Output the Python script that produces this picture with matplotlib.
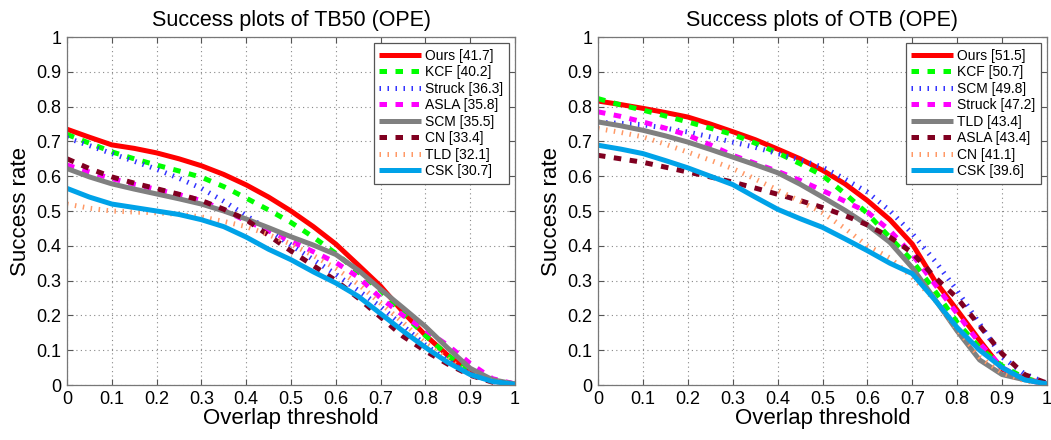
import matplotlib
matplotlib.use("Agg")
import matplotlib.pyplot as plt
from matplotlib.ticker import FixedLocator, FuncFormatter

plt.rcParams["font.family"] = ["Liberation Sans", "DejaVu Sans"]

# Overlap thresholds at which success rate is sampled (0:0.05:1)
thresholds = [0.0, 0.05, 0.1, 0.15, 0.2, 0.25, 0.3, 0.35, 0.4, 0.45, 0.5,
              0.55, 0.6, 0.65, 0.7, 0.75, 0.8, 0.85, 0.9, 0.95, 1.0]

# ---- TB50 ----
tb50_names = ["Ours", "KCF", "Struck", "ASLA", "SCM", "CN", "TLD", "CSK"]
tb50_auc = [41.7, 40.2, 36.3, 35.8, 35.5, 33.4, 32.1, 30.7]
tb50_ours = [0.735, 0.712, 0.69, 0.68, 0.667, 0.65, 0.63, 0.605, 0.575, 0.54, 0.5,
             0.455, 0.405, 0.345, 0.284, 0.21, 0.143, 0.085, 0.037, 0.011, 0.003]
tb50_kcf = [0.72, 0.695, 0.67, 0.65, 0.632, 0.615, 0.597, 0.57, 0.537, 0.503, 0.467,
            0.425, 0.378, 0.325, 0.272, 0.205, 0.142, 0.085, 0.04, 0.012, 0.003]
tb50_struck = [0.71, 0.688, 0.665, 0.643, 0.62, 0.594, 0.565, 0.528, 0.487, 0.445, 0.402,
               0.36, 0.318, 0.272, 0.225, 0.17, 0.115, 0.07, 0.03, 0.01, 0.002]
tb50_asla = [0.632, 0.612, 0.593, 0.577, 0.562, 0.547, 0.53, 0.502, 0.472, 0.443, 0.413,
             0.383, 0.352, 0.31, 0.25, 0.2, 0.158, 0.114, 0.062, 0.018, 0.003]
tb50_scm = [0.622, 0.598, 0.578, 0.563, 0.549, 0.535, 0.52, 0.5, 0.477, 0.452, 0.426,
            0.402, 0.375, 0.33, 0.275, 0.222, 0.168, 0.106, 0.048, 0.015, 0.003]
tb50_cn = [0.65, 0.622, 0.598, 0.58, 0.564, 0.548, 0.53, 0.505, 0.475, 0.43, 0.385,
           0.343, 0.3, 0.25, 0.195, 0.14, 0.098, 0.06, 0.028, 0.008, 0.002]
tb50_tld = [0.52, 0.508, 0.5, 0.497, 0.495, 0.49, 0.483, 0.47, 0.455, 0.432, 0.405,
            0.372, 0.335, 0.29, 0.235, 0.18, 0.12, 0.075, 0.03, 0.01, 0.002]
tb50_csk = [0.565, 0.54, 0.52, 0.51, 0.5, 0.49, 0.475, 0.455, 0.425, 0.39, 0.36,
            0.325, 0.293, 0.255, 0.205, 0.155, 0.108, 0.065, 0.03, 0.01, 0.002]

# ---- OTB ----
otb_names = ["Ours", "KCF", "SCM", "Struck", "TLD", "ASLA", "CN", "CSK"]
otb_auc = [51.5, 50.7, 49.8, 47.2, 43.4, 43.4, 41.1, 39.6]
otb_ours = [0.816, 0.806, 0.795, 0.783, 0.77, 0.75, 0.728, 0.705, 0.678, 0.65, 0.617,
            0.578, 0.53, 0.475, 0.405, 0.30, 0.215, 0.128, 0.046, 0.018, 0.003]
otb_kcf = [0.823, 0.805, 0.79, 0.773, 0.756, 0.738, 0.72, 0.695, 0.667, 0.636, 0.602,
           0.55, 0.493, 0.424, 0.357, 0.271, 0.18, 0.107, 0.055, 0.02, 0.003]
otb_scm = [0.755, 0.752, 0.748, 0.738, 0.727, 0.713, 0.698, 0.683, 0.665, 0.647, 0.626,
           0.592, 0.554, 0.501, 0.435, 0.357, 0.271, 0.176, 0.08, 0.032, 0.005]
otb_struck = [0.785, 0.772, 0.756, 0.738, 0.718, 0.69, 0.66, 0.637, 0.614, 0.588, 0.559,
              0.528, 0.497, 0.444, 0.375, 0.29, 0.205, 0.12, 0.05, 0.015, 0.003]
otb_tld = [0.756, 0.745, 0.732, 0.716, 0.698, 0.677, 0.655, 0.633, 0.61, 0.577, 0.54,
           0.502, 0.46, 0.41, 0.337, 0.247, 0.155, 0.072, 0.03, 0.015, 0.004]
otb_asla = [0.66, 0.65, 0.64, 0.626, 0.612, 0.598, 0.583, 0.566, 0.548, 0.53, 0.51,
            0.487, 0.46, 0.425, 0.38, 0.31, 0.25, 0.17, 0.09, 0.03, 0.005]
otb_cn = [0.737, 0.726, 0.713, 0.692, 0.669, 0.646, 0.622, 0.592, 0.56, 0.528, 0.495,
          0.45, 0.40, 0.365, 0.31, 0.245, 0.16, 0.08, 0.035, 0.012, 0.003]
otb_csk = [0.689, 0.678, 0.665, 0.645, 0.624, 0.6, 0.576, 0.54, 0.505, 0.478, 0.453,
           0.42, 0.386, 0.35, 0.32, 0.245, 0.165, 0.1, 0.05, 0.015, 0.003]

# Line appearance by legend rank (same palette in both panels)
LW = 3.6
DASH = (0, (1.5, 1.7))
DOT = (0, (0.3, 1.3))
rank_styles = [
    dict(color="#FF0000", linestyle="-"),
    dict(color="#00FF00", linestyle=DASH),
    dict(color="#3333FF", linestyle=DOT),
    dict(color="#FF00FF", linestyle=DASH),
    dict(color="#808080", linestyle="-"),
    dict(color="#800020", linestyle=DASH),
    dict(color="#FF9966", linestyle=DOT),
    dict(color="#00A2E8", linestyle="-"),
]

fig = plt.figure(figsize=(10.51, 4.4), dpi=100)
ax1 = fig.add_axes([67 / 1051, 55 / 440, 448 / 1051, 348 / 440])
ax2 = fig.add_axes([598 / 1051, 55 / 440, 449 / 1051, 348 / 440])

ticks = [i / 10 for i in range(11)]
fmt = FuncFormatter(lambda v, p: "0" if abs(v) < 1e-9 else ("1" if abs(v - 1) < 1e-9 else f"{v:.1f}"))


def draw(ax, title, names, aucs, series):
    for st, name, auc, ys in zip(rank_styles, names, aucs, series):
        ax.plot(thresholds, ys, color=st["color"], linestyle=st["linestyle"],
                linewidth=LW, dash_capstyle="butt", solid_capstyle="butt",
                label=f"{name} [{auc:.1f}]")
    ax.set_xlim(0, 1)
    ax.set_ylim(0, 1)
    ax.xaxis.set_major_locator(FixedLocator(ticks))
    ax.yaxis.set_major_locator(FixedLocator(ticks))
    ax.xaxis.set_major_formatter(fmt)
    ax.yaxis.set_major_formatter(fmt)
    ax.tick_params(direction="in", length=4, width=0.8, colors="#555555",
                   labelcolor="black", labelsize=13, top=True, right=True, pad=4)
    ax.grid(True, linestyle=(0, (1, 3)), color="#888888", linewidth=0.8)
    for sp in ax.spines.values():
        sp.set_color("#777777")
        sp.set_linewidth(0.9)
    ax.set_title(title, fontsize=15.5, pad=8)
    ax.set_xlabel("Overlap threshold", fontsize=16, labelpad=0)
    ax.set_ylabel("Success rate", fontsize=16, labelpad=4)
    leg = ax.legend(loc="upper right", fontsize=10, handlelength=3.0,
                    handletextpad=0.3, labelspacing=0.18, borderpad=0.4,
                    borderaxespad=0.45, fancybox=False, framealpha=1)
    leg.get_frame().set_edgecolor("#555555")
    leg.get_frame().set_linewidth(0.9)


draw(ax1, "Success plots of TB50 (OPE)", tb50_names, tb50_auc,
     [tb50_ours, tb50_kcf, tb50_struck, tb50_asla, tb50_scm, tb50_cn, tb50_tld, tb50_csk])
draw(ax2, "Success plots of OTB (OPE)", otb_names, otb_auc,
     [otb_ours, otb_kcf, otb_scm, otb_struck, otb_tld, otb_asla, otb_cn, otb_csk])

fig.savefig("out.png", dpi=100)
